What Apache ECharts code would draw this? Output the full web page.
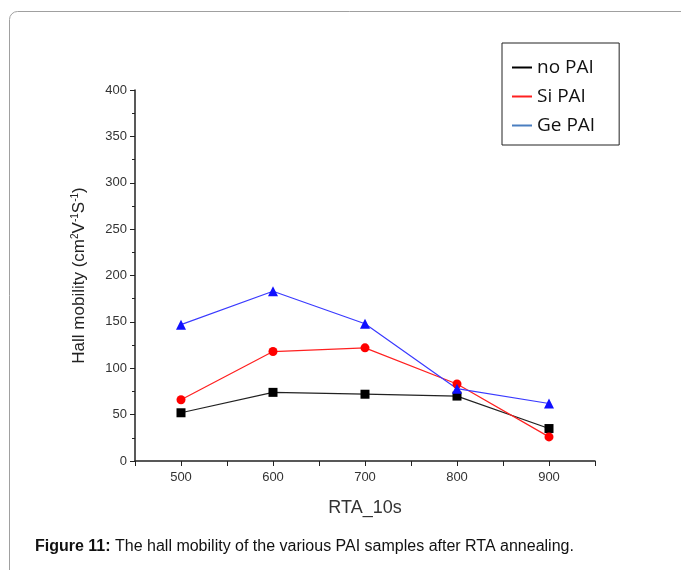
<!DOCTYPE html>
<html lang="en">
<head>
	<meta charset="UTF-8">
	<title>Hall mobility vs RTA</title>
	<script src="https://cdn.jsdelivr.net/npm/echarts@6/dist/echarts.min.js"></script>
	<style>
		html,body{margin:0;padding:0;width:681px;height:570px;background:#fff;}
		#chart{width:681px;height:570px;}
	</style>
</head>
<body>
	<div id="chart"></div>
<script>
	// values
	var temps = [500, 600, 700, 800, 900];
	var noPai = [52, 74, 72, 70, 35];
	var siPai = [66, 118, 122, 83, 26];
	var gePai = [147, 183, 148, 78, 62];
	var yTicks = [0, 50, 100, 150, 200, 250, 300, 350, 400];

	function pairs(ys) {
		var out = [];
		for (var i = 0; i < temps.length; i++) {
			out.push([temps[i], ys[i]]);
		}
		return out;
	}

	var myChart = echarts.init(document.getElementById('chart'));

	var sans = 'Liberation Sans, Arial, sans-serif';

	var options = {
		animation: false,
		grid: {left: 135, right: 86, top: 90, bottom: 109},
		legend: {
			orient: 'vertical',
			left: 502,
			top: 43,
			padding: [15, 24, 10, 10],
			itemGap: 10,
			itemWidth: 20,
			itemHeight: 2,
			icon: 'rect',
			borderColor: '#222',
			borderWidth: 1,
			backgroundColor: '#fff',
			textStyle: {fontFamily: 'Open Sans, sans-serif', fontSize: 19, color: '#111'},
			data: [
				{name: 'no PAI', itemStyle: {color: '#000'}},
				{name: 'Si PAI', itemStyle: {color: '#ff2020'}},
				{name: 'Ge PAI', itemStyle: {color: '#4a7ec0'}}
			]
		},
		xAxis: {
			type: 'value',
			min: 450,
			max: 950,
			interval: 50,
			name: 'RTA_10s',
			nameLocation: 'middle',
			nameGap: 38,
			nameTextStyle: {fontFamily: sans, fontSize: 18, color: '#333'},
			axisLine: {lineStyle: {color: '#222', width: 1.5}},
			axisTick: {length: 5, lineStyle: {color: '#222'}},
			axisLabel: {
				fontFamily: sans, fontSize: 13, color: '#333', margin: 10,
				formatter: function (v) { return v % 100 === 0 ? String(v) : ''; }
			},
			splitLine: {show: false}
		},
		yAxis: {
			type: 'value',
			min: yTicks[0],
			max: yTicks[yTicks.length - 1],
			interval: 50,
			name: 'Hall mobility (cm{sup|2}V{sup|-1}S{sup|-1})',
			nameLocation: 'middle',
			nameGap: 47,
			nameTextStyle: {
				fontFamily: sans, fontSize: 17, color: '#222',
				rich: {sup: {fontFamily: sans, fontSize: 10, color: '#222', verticalAlign: 'top', padding: [0, 0, 8, 0]}}
			},
			axisLine: {show: true, lineStyle: {color: '#222', width: 1.5}},
			axisTick: {show: true, length: 5, lineStyle: {color: '#222'}},
			minorTick: {show: true, splitNumber: 2, length: 3, lineStyle: {color: '#222'}},
			axisLabel: {fontFamily: sans, fontSize: 13, color: '#333', margin: 8},
			splitLine: {show: false}
		},
		series: [
			{
				name: 'no PAI', type: 'line', data: pairs(noPai),
				symbol: 'rect', symbolSize: 9,
				lineStyle: {color: '#222', width: 1.2},
				itemStyle: {color: '#000'}
			},
			{
				name: 'Si PAI', type: 'line', data: pairs(siPai),
				symbol: 'circle', symbolSize: 9,
				lineStyle: {color: '#ff2020', width: 1.2},
				itemStyle: {color: '#ff0000'}
			},
			{
				name: 'Ge PAI', type: 'line', data: pairs(gePai),
				symbol: 'triangle', symbolSize: 10,
				lineStyle: {color: '#3a3aff', width: 1.2},
				itemStyle: {color: '#1010ff'}
			}
		],
		graphic: [
			{
				type: 'rect', z: -1, silent: true,
				shape: {x: 9.5, y: 11.5, width: 720, height: 620, r: 8},
				style: {fill: 'none', stroke: '#a0a0a0', lineWidth: 1}
			},
			{
				type: 'text', left: 35, top: 539,
				style: {
					text: '{b|Figure 11:} The hall mobility of the various PAI samples after RTA annealing.',
					fontFamily: sans, fontSize: 16, fill: '#111',
					rich: {b: {fontWeight: 'bold', fontFamily: sans, fontSize: 16, fill: '#111'}}
				}
			}
		]
	};
	myChart.setOption(options);
</script>
</body>
</html>
